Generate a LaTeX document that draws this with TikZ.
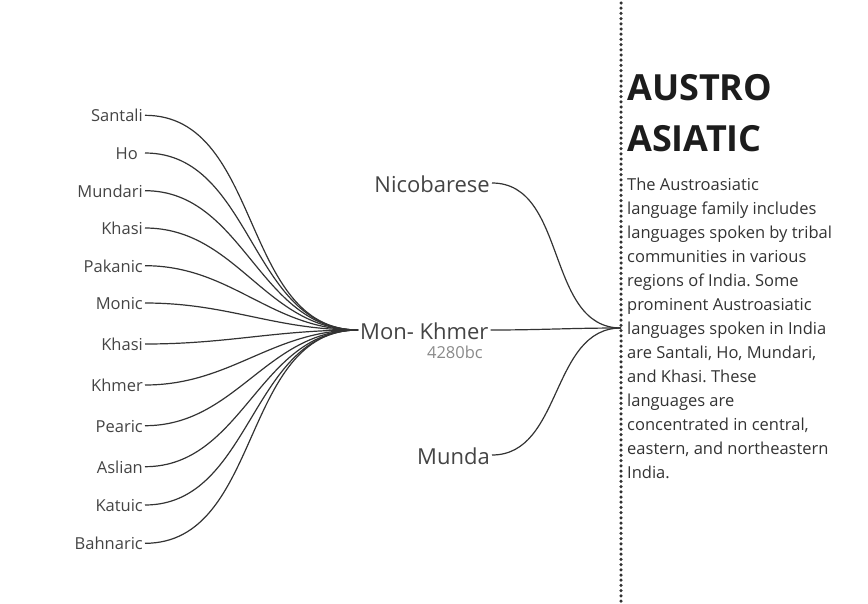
\documentclass[tikz,border=0pt]{standalone}
\usepackage{fontspec}
\setmainfont{Open Sans}
\usetikzlibrary{positioning}
\definecolor{linegray}{HTML}{333333}
\definecolor{leafgray}{HTML}{444444}
\definecolor{dategray}{HTML}{8A8A8A}
\definecolor{titleblack}{HTML}{1C1C1C}
\frenchspacing

\begin{document}
\begin{tikzpicture}[x=1pt, y=-1pt,
    leaf/.style={anchor=east, inner xsep=2pt, inner ysep=0pt, text height=13pt, text depth=0pt, text=leafgray, font=\fontsize{16.5}{20}\selectfont},
    group/.style={inner xsep=2pt, inner ysep=0pt, text height=18pt, text depth=0pt, text=leafgray, font=\fontsize{22}{26}\selectfont},
    branch/.style={draw=linegray, line width=1.2pt},
    note/.style={anchor=west, inner xsep=6pt, inner ysep=0pt, align=left, text=linegray, font=\fontsize{16.5}{24}\selectfont},
    sepline/.style={draw=linegray, line width=3.5pt, line cap=round, dash pattern=on 0pt off 5.2pt}]
    \useasboundingbox (0,0) rectangle (868,603);

    % separator
    \coordinate (top) at (621,3);
    \coordinate (bot) at (621,603);
    \draw[sepline] (top) -- (bot);

    % heading and text
    \node[anchor=north west, inner sep=0pt, align=left, text=titleblack, font=\fontsize{36}{51}\selectfont\bfseries] (title) at (627,74) {AUSTRO\\ASIATIC};
    \node[note] (desc) at (621,328) {The Austroasiatic\\language family includes\\languages spoken by tribal\\communities in various\\regions of India. Some\\prominent Austroasiatic\\languages spoken in India\\are Santali, Ho, Mundari,\\and Khasi. These\\languages are\\concentrated in central,\\eastern, and northeastern\\India.};

    % groups
    \node[group, anchor=west] (mk) at (358,330) {Mon- Khmer};
    \node[group, anchor=east] (nic) at (492,183) {Nicobarese};
    \node[group, anchor=east] (mun) at (492,455) {Munda};
    \node[anchor=base east, inner sep=0pt, text=dategray, font=\fontsize{16.5}{18}\selectfont] (date) at (483,358) {4280bc};

    \draw[branch] (nic.east) to[out=0,in=180] (desc.west);
    \draw[branch] (mk.east) to[out=0,in=180] (desc.west);
    \draw[branch] (mun.east) to[out=0,in=180] (desc.west);

    % languages
    \foreach \name/\yy [count=\i] in {Santali/115.3, Ho\kern5pt/153, Mundari/190.7, Khasi/228, Pakanic/265.7, Monic/303, Khasi/344, Khmer/385, Pearic/425.7, Aslian/466.7, Katuic/505, Bahnaric/543.3} {
        \node[leaf] (l\i) at (145,\yy) {\name};
        \draw[branch] (l\i.east) to[out=0,in=180] (mk.west);
    }
\end{tikzpicture}
\end{document}
